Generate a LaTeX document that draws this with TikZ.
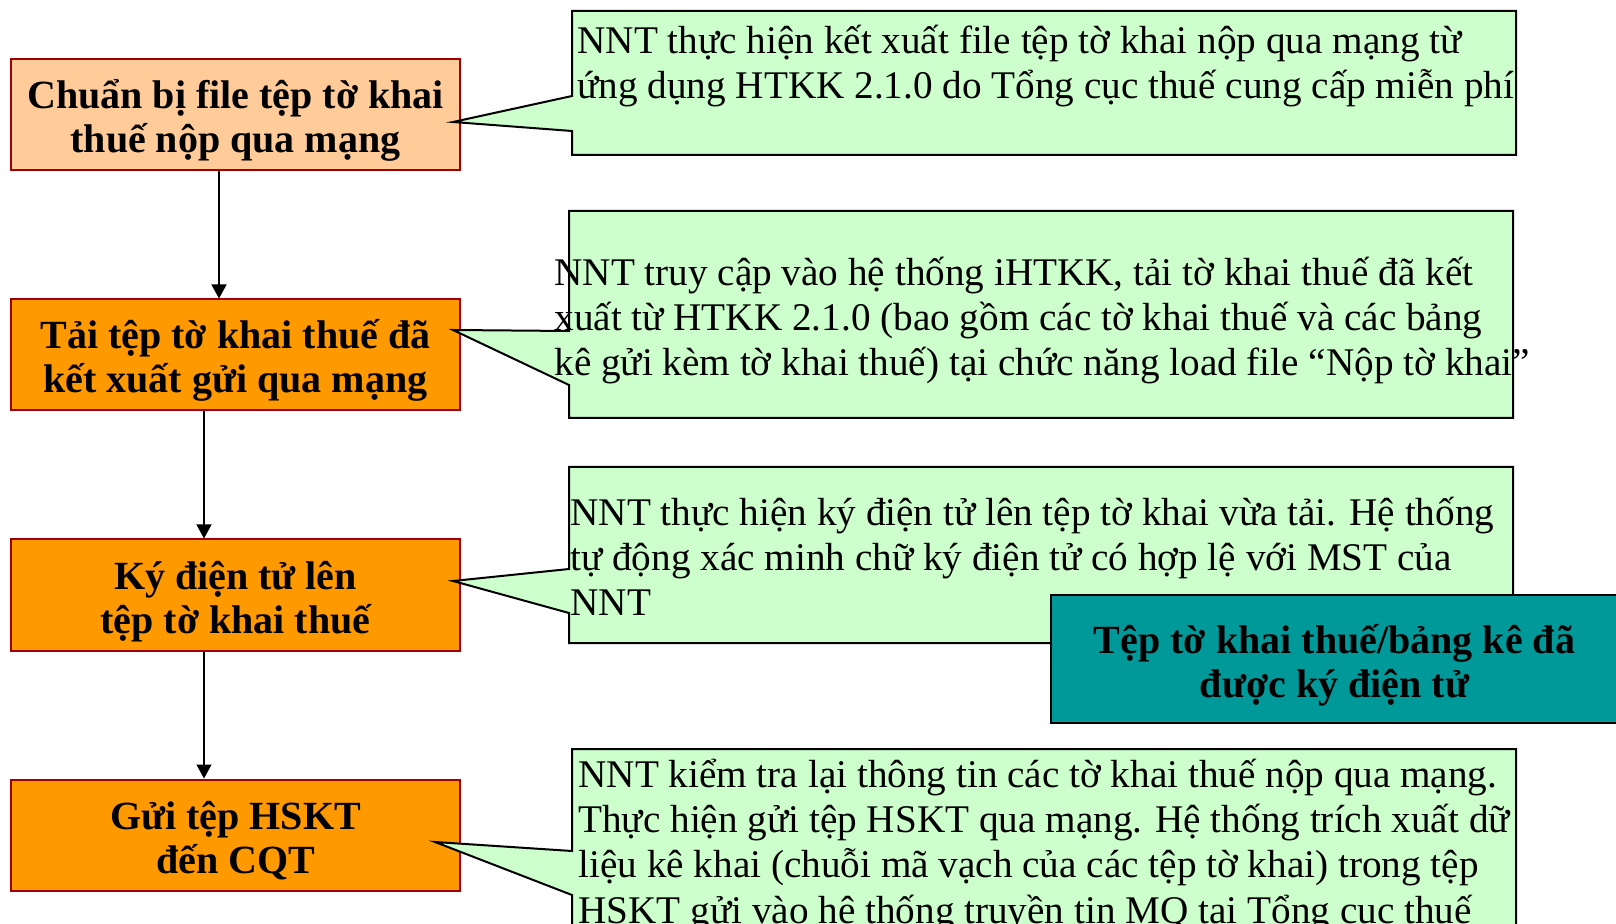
\documentclass[tikz,border=0pt]{standalone}
\usepackage{fontspec}
\setmainfont{Liberation Serif}
\usetikzlibrary{arrows.meta}
\definecolor{boxred}{HTML}{A00000}
\definecolor{peach}{HTML}{FFCC99}
\definecolor{orng}{HTML}{FF9900}
\definecolor{mint}{HTML}{CCFFCC}
\definecolor{tealc}{HTML}{009999}
\tikzset{
  stepbox/.style={draw=boxred, line width=1pt, fill=orng, minimum width=224.5pt,
    minimum height=55.5pt, inner sep=0pt, align=center,
    font=\bfseries\fontsize{20}{22}\selectfont},
  cframe/.style={inner sep=0pt, outer sep=0pt, minimum width=472pt},
  cshape/.style={draw=black, line width=1pt, fill=mint, line join=miter},
  ctext/.style={anchor=north west, inner sep=0pt, align=left,
    font=\fontsize{19.6}{22.6}\selectfont},
  resbox/.style={draw=black, line width=1pt, fill=tealc, minimum width=283.5pt,
    minimum height=64pt, inner sep=0pt, align=center,
    font=\bfseries\fontsize{20}{22}\selectfont},
  arr/.style={draw=black, line width=0.7pt, -{Triangle[length=7pt,width=7.5pt]}}
}
\newcommand{\tl}{\rule{0pt}{20pt}}
\newcommand{\twol}[2]{\rule{0pt}{22pt}#1\\#2\rule[-6pt]{0pt}{6pt}}
\begin{document}
\begin{tikzpicture}[x=0.5pt,y=-0.5pt]
\useasboundingbox (0,0) rectangle (1616,924);
\clip (0,0) rectangle (1616,924);
\fill[white] (0,0) rectangle (1616,924);

% left step boxes
\node[stepbox, fill=peach] (b1) at (235.5,114.5) {\twol{Chuẩn bị file tệp tờ khai}{thuế nộp qua mạng}};
\node[stepbox] (b2) at (235.5,355) {\twol{Tải tệp tờ khai thuế đã}{kết xuất gửi qua mạng}};
\node[stepbox] (b3) at (235.5,595) {\twol{Ký điện tử lên}{tệp tờ khai thuế}};
\node[stepbox] (b4) at (235.5,835) {\twol{Gửi tệp HSKT}{đến CQT}};

\coordinate (ax1) at (219,0);
\coordinate (ax2) at (204,0);
\draw[arr] (b1.south -| ax1) -- (b2.north -| ax1);
\draw[arr] (b2.south -| ax2) -- (b3.north -| ax2);
\draw[arr] (b3.south -| ax2) -- (b4.north -| ax2);

% callout frames
\node[cframe, minimum height=72pt] (c1) at (1044,83) {};
\node[cframe, minimum height=103.5pt] (c2) at (1041,314.5) {};
\node[cframe, minimum height=88pt] (c3) at (1041,555) {};
\node[cframe, minimum height=105.5pt] (c4) at (1044,854.5) {};
\coordinate (t1) at (453,122);
\coordinate (t2) at (453,330);
\coordinate (t3) at (453,581);
\coordinate (t4) at (435,842);

\path[cshape] (c1.north west) -- (c1.north east) -- (c1.south east) -- (c1.south west)
  -- (c1.west |- 0,131) -- (t1) -- (c1.west |- 0,96) -- cycle;
\path[cshape] (c2.north west) -- (c2.north east) -- (c2.south east) -- (c2.south west)
  -- (c2.west |- 0,385) -- (t2) -- (c2.west |- 0,331) -- cycle;
\path[cshape] (c3.north west) -- (c3.north east) -- (c3.south east) -- (c3.south west)
  -- (c3.west |- 0,613) -- (t3) -- (c3.west |- 0,569) -- cycle;
\path[cshape] (c4.north west) -- (c4.north east) -- (c4.south east) -- (c4.south west)
  -- (c4.west |- 0,895) -- (t4) -- (c4.west |- 0,851) -- cycle;

% callout texts
\node[ctext] (c1t) at (577,13) {\tl NNT thực hiện kết xuất file tệp tờ khai nộp qua mạng từ\\ứng dụng HTKK 2.1.0 do Tổng cục thuế cung cấp miễn phí};
\node[ctext] (c2t) at (554,245) {\tl NNT truy cập vào hệ thống iHTKK, tải tờ khai thuế đã kết\\xuất từ HTKK 2.1.0 (bao gồm các tờ khai thuế và các bảng\\kê gửi kèm tờ khai thuế) tại chức năng load file “Nộp tờ khai”};
\node[ctext] (c3t) at (570,485) {\tl NNT thực hiện ký điện tử lên tệp tờ khai vừa tải. Hệ thống\\tự động xác minh chữ ký điện tử có hợp lệ với MST của\\NNT};
\node[ctext] (c4t) at (578,747) {\tl NNT kiểm tra lại thông tin các tờ khai thuế nộp qua mạng.\\Thực hiện gửi tệp HSKT qua mạng. Hệ thống trích xuất dữ\\liệu kê khai (chuỗi mã vạch của các tệp tờ khai) trong tệp\\HSKT gửi vào hệ thống truyền tin MQ tại Tổng cục thuế};

% result box
\node[resbox] (r) at (1334.5,659) {\twol{Tệp tờ khai thuế/bảng kê đã}{được ký điện tử}};
\end{tikzpicture}
\end{document}
